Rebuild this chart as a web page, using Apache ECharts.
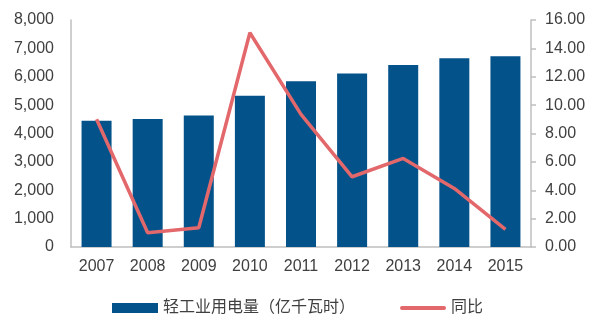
<!DOCTYPE html>
<html>
<head>
<meta charset="utf-8">
<script src="https://cdn.jsdelivr.net/npm/echarts@6/dist/echarts.min.js"></script>
<style>
  html, body { margin: 0; padding: 0; background: #ffffff; }
  #chart { width: 600px; height: 325px; }
</style>
</head>
<body>
<div id="chart"></div>
<script>
// Light-industry electricity use (100 million kWh) and year-on-year growth (%)
var years = ['2007', '2008', '2009', '2010', '2011', '2012', '2013', '2014', '2015'];
var usage = [4450, 4510, 4630, 5330, 5840, 6115, 6410, 6655, 6725];
var growth = [9.0, 1.0, 1.36, 15.1, 9.35, 4.95, 6.24, 4.13, 1.24];
var usageName = '轻工业用电量（亿千瓦时）';
var growthName = '同比';

var barColor = '#03528a';
var lineColor = '#e3686b';
var axisGray = '#bfbfbf';
var textColor = '#404040';
var fontFamily = 'Arial, "Liberation Sans", "Noto Sans CJK SC", sans-serif';

// Thin bar-shaped legend marker for the growth line
var lineLegendIcon = 'path://M2,0 L44,0 A2,2 0 0 1 44,4 L2,4 A2,2 0 0 1 2,0 Z';

var chart = echarts.init(document.getElementById('chart'), null, { renderer: 'canvas' });

chart.setOption({
  animation: false,
  backgroundColor: '#ffffff',
  textStyle: { fontFamily: fontFamily },
  grid: { left: 71, right: 69, top: 20, bottom: 78 },
  legend: {
    left: 107,
    top: 295,
    itemWidth: 46,
    itemHeight: 10,
    itemGap: 45,
    symbolKeepAspect: true,
    textStyle: { fontSize: 16, color: textColor, fontFamily: fontFamily },
    data: [
      { name: usageName, icon: 'rect' },
      { name: growthName, icon: lineLegendIcon }
    ]
  },
  xAxis: {
    type: 'category',
    data: years,
    axisLine: { lineStyle: { color: axisGray, width: 1.5 } },
    axisTick: { show: false },
    axisLabel: { fontSize: 16, color: textColor, margin: 12 }
  },
  yAxis: [
    {
      type: 'value',
      min: 0,
      max: 8000,
      interval: 1000,
      splitLine: { show: false },
      axisLine: { show: true, lineStyle: { color: axisGray, width: 1.5 } },
      axisTick: { show: false },
      axisLabel: {
        fontSize: 16,
        color: textColor,
        margin: 17,
        formatter: function (v) { return v.toLocaleString('en-US'); }
      }
    },
    {
      type: 'value',
      min: 0,
      max: 16,
      interval: 2,
      position: 'right',
      splitLine: { show: false },
      axisLine: { show: true, lineStyle: { color: axisGray, width: 1.5 } },
      axisTick: { show: true, length: 5, lineStyle: { color: axisGray, width: 1.5 } },
      axisLabel: {
        fontSize: 16,
        color: textColor,
        margin: 14,
        formatter: function (v) { return v.toFixed(2); }
      }
    }
  ],
  series: [
    {
      name: usageName,
      type: 'bar',
      yAxisIndex: 0,
      data: usage,
      barWidth: 30,
      itemStyle: { color: barColor }
    },
    {
      name: growthName,
      type: 'line',
      yAxisIndex: 1,
      data: growth,
      symbol: 'none',
      lineStyle: { color: lineColor, width: 3.5 },
      itemStyle: { color: lineColor }
    }
  ]
});
</script>
</body>
</html>
